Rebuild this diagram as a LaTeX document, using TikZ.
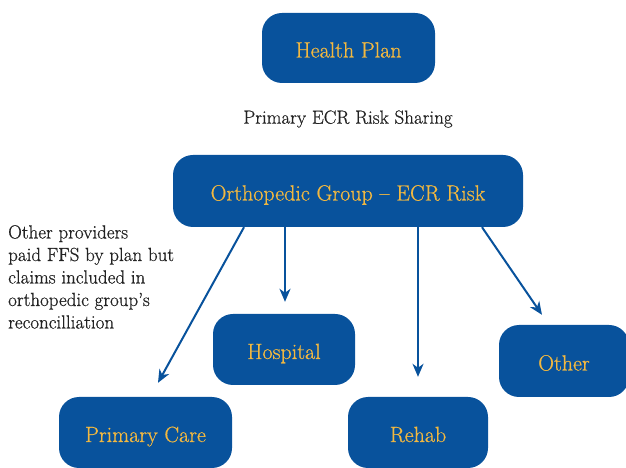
\documentclass[tikz,border=0pt]{standalone}
\usepackage{fontspec}
\setmainfont{Latin Modern Roman}[FakeBold=0.6]
\usetikzlibrary{arrows.meta,calc}
\definecolor{boxblue}{RGB}{8,82,156}
\definecolor{gold}{RGB}{242,184,64}
\definecolor{txtgray}{RGB}{34,34,34}
\tikzset{
  card/.style={rectangle, rounded corners=20pt, fill=boxblue, draw=none, text=gold,
    font=\fontsize{22}{24}\selectfont, inner sep=0pt, text height=19pt, text depth=0pt},
  arr/.style={draw=boxblue, line width=2pt, -{Stealth[length=13pt,width=11pt,inset=4pt]}},
  plain/.style={text=txtgray, inner sep=0pt}
}
\begin{document}
\begin{tikzpicture}[x=1pt,y=1pt]
\useasboundingbox (0,0) rectangle (626,468);
\clip (0,0) rectangle (626,468);
\node[card, minimum width=173pt, minimum height=70pt] (health) at (348.5,420) {Health Plan};
\node[plain, font=\fontsize{19}{22}\selectfont] (sharing) at (348,349) {Primary ECR Risk Sharing};
\node[card, minimum width=350pt, minimum height=72pt] (ortho) at (348,277) {Orthopedic Group -- ECR Risk};
\node[card, minimum width=142pt, minimum height=71pt] (hospital) at (284,118.5) {Hospital};
\node[card, minimum width=173pt, minimum height=71pt] (primary) at (145.5,35.5) {Primary Care};
\node[card, minimum width=140pt, minimum height=71pt] (rehab) at (418,35.5) {Rehab};
\node[card, minimum width=130pt, minimum height=72pt] (other) at (564,107) {Other};
\node[plain, anchor=north west, align=left, font=\fontsize{19}{22.5}\selectfont] (note) at (8,243)
  {Other providers\\paid FFS by plan but\\claims included in\\orthopedic group's\\reconcilliation};
\draw[arr] ($(ortho.south)+(-104,0)$) -- ($(primary.north)+(12.5,14)$);
\draw[arr] ($(ortho.south)+(-63,0)$) -- ($(hospital.north)+(1,12)$);
\draw[arr] ($(ortho.south)+(70,0)$) -- ($(rehab.north)+(0,20)$);
\draw[arr] ($(ortho.south)+(134,0)$) -- ($(other.north)+(-22,10)$);
\end{tikzpicture}
\end{document}
